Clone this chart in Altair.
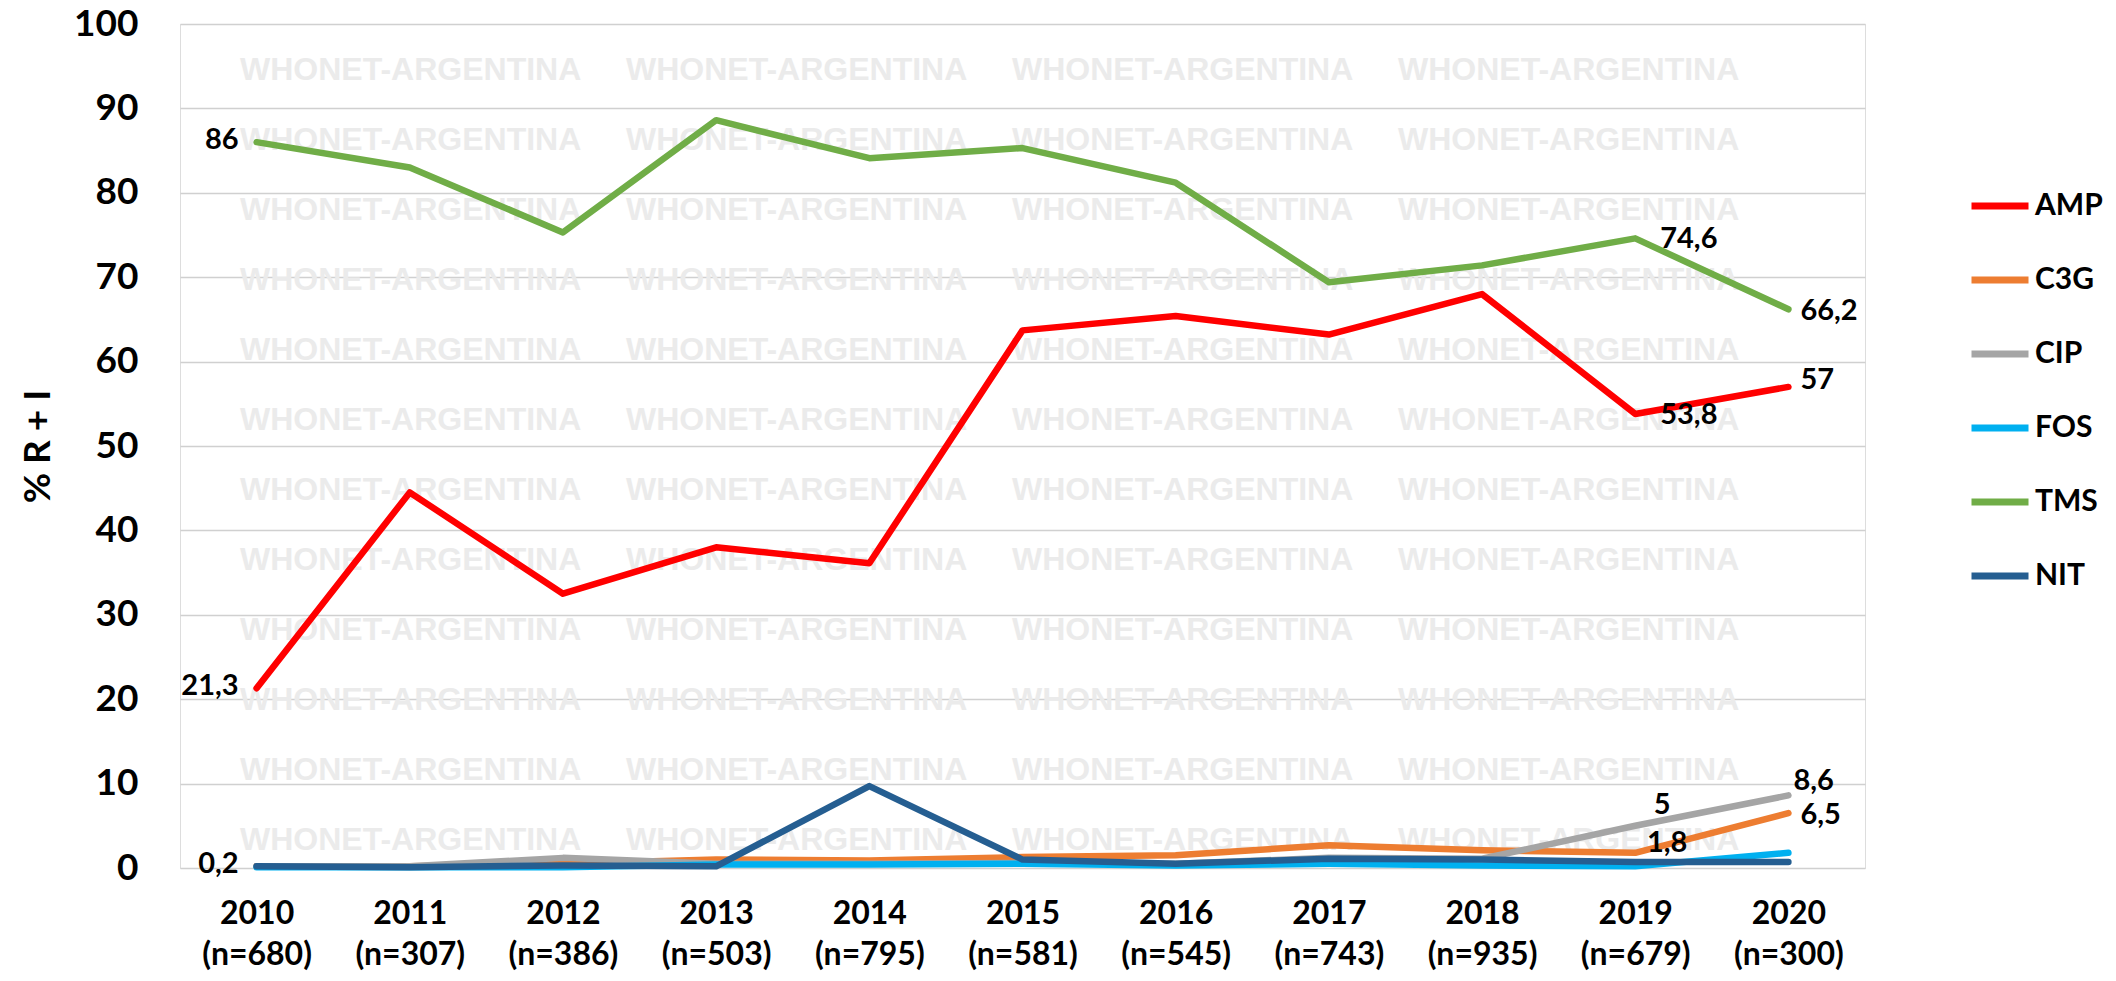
import altair as alt
import pandas as pd

# ---- data ----
years = ["2010", "2011", "2012", "2013", "2014", "2015", "2016", "2017", "2018", "2019", "2020"]
n_counts = ["680", "307", "386", "503", "795", "581", "545", "743", "935", "679", "300"]
series = ["AMP", "C3G", "CIP", "FOS", "TMS", "NIT"]
colors = ["#FF0000", "#ED7D31", "#A5A5A5", "#00B0F0", "#70AD47", "#255E91"]

amp = [21.3, 44.5, 32.5, 38.0, 36.1, 63.7, 65.4, 63.2, 68.0, 53.8, 57.0]
c3g = [0.2, 0.2, 0.5, 1.0, 0.9, 1.3, 1.5, 2.7, 2.1, 1.8, 6.5]
cip = [0.2, 0.2, 1.2, 0.5, 0.5, 0.6, 0.5, 1.2, 1.1, 5.0, 8.6]
fos = [0.1, 0.1, 0.1, 0.4, 0.4, 0.5, 0.3, 0.5, 0.3, 0.2, 1.8]
tms = [86.0, 83.0, 75.3, 88.6, 84.1, 85.3, 81.2, 69.4, 71.4, 74.6, 66.2]
nit = [0.2, 0.1, 0.3, 0.2, 9.7, 1.0, 0.5, 1.1, 1.0, 0.7, 0.7]

values = {"AMP": amp, "C3G": c3g, "CIP": cip, "FOS": fos, "TMS": tms, "NIT": nit}

# data labels: (series, year index, text, placement group)
label_series = ["TMS", "AMP", "NIT", "TMS", "TMS", "AMP", "AMP", "CIP", "CIP", "C3G", "C3G"]
label_idx = [0, 0, 0, 9, 10, 9, 10, 9, 10, 9, 10]
label_text = ["86", "21,3", "0,2", "74,6", "66,2", "53,8", "57", "5", "8,6", "1,8", "6,5"]
label_group = ["left", "left", "left", "near", "right", "near", "rightup", "above5", "rightup2", "above18", "right"]

wm_text = "WHONET-ARGENTINA"
wm_cols = [0, 1, 2, 3]
wm_rows = list(range(12))

FONT = "Lato"

cats = [f"{y} (n={n})" for y, n in zip(years, n_counts)]

rows = []
for s in series:
    for c, v in zip(cats, values[s]):
        rows.append({"cat": c, "serie": s, "val": v})
df = pd.DataFrame(rows)

lab = pd.DataFrame({
    "serie": label_series,
    "cat": [cats[i] for i in label_idx],
    "val": [values[s][i] for s, i in zip(label_series, label_idx)],
    "txt": label_text,
    "grp": label_group,
})

wm = pd.DataFrame([{"col": c, "row": r, "txt": wm_text} for c in wm_cols for r in wm_rows])

W, H = 1685, 844

x_enc = alt.X(
    "cat:N", sort=cats,
    scale=alt.Scale(type="point", padding=0.5),
    axis=alt.Axis(
        title=None, labelAngle=0, labelExpr="split(datum.value, ' ')",
        labelFont=FONT, labelFontSize=32, labelFontWeight="bold", labelColor="black",
        labelLineHeight=41, labelPadding=30, domain=False, ticks=False, grid=False,
        labelBaseline="top",
    ),
)
y_enc = alt.Y(
    "val:Q",
    scale=alt.Scale(domain=[0, 100], nice=False),
    axis=alt.Axis(
        title="% R + I", values=list(range(0, 101, 10)),
        labelFont=FONT, labelFontSize=37, labelFontWeight="bold", labelColor="black",
        labelPadding=42, domain=False, ticks=False,
        grid=True, gridColor="#d0d0d0", gridWidth=1.5,
        titleFont=FONT, titleFontSize=37, titleFontWeight="bold", titleColor="black",
        titlePadding=16,
    ),
)

watermark = alt.Chart(wm).transform_calculate(
    px="60 + datum.col * 386", py="46 + datum.row * 70"
).mark_text(
    font="Liberation Sans", fontSize=32, fontWeight="bold", color="#ebebeb",
    align="left", baseline="middle",
).encode(
    x=alt.X("px:Q", scale=None), y=alt.Y("py:Q", scale=None), text="txt:N"
)

lines = alt.Chart(df).mark_line(strokeWidth=6.5, strokeCap="round", strokeJoin="round").encode(
    x=x_enc, y=y_enc,
    color=alt.Color(
        "serie:N",
        scale=alt.Scale(domain=series, range=colors),
        legend=alt.Legend(
            title=None, orient="none", legendX=1788, legendY=150,
            symbolType="stroke", symbolSize=3249, symbolStrokeWidth=7,
            labelFont=FONT, labelFontSize=30, labelFontWeight="bold", labelColor="black",
            rowPadding=27, labelOffset=3, padding=0,
        ),
    ),
)

def lab_layer(groups, align, dx, dy):
    return alt.Chart(lab).transform_filter(
        alt.FieldOneOfPredicate(field="grp", oneOf=groups)
    ).mark_text(
        font=FONT, fontSize=29, fontWeight="bold", color="black",
        align=align, baseline="middle", dx=dx, dy=dy,
    ).encode(
        x=alt.X("cat:N", sort=cats), y=alt.Y("val:Q"), text="txt:N"
    )

labels = [
    lab_layer(["left"], "right", -18, -2),
    lab_layer(["near"], "left", 25, 1),
    lab_layer(["right"], "left", 12, 2),
    lab_layer(["rightup"], "left", 12, -7),
    lab_layer(["rightup2"], "left", 5, -14),
    lab_layer(["above5"], "center", 27, -21),
    lab_layer(["above18"], "center", 32, -10),
]

chart = alt.layer(watermark, lines, *labels).properties(
    width=W, height=H,
    autosize=alt.AutoSizeParams(type="none"),
    padding={"left": 172, "top": 16, "right": 243, "bottom": 105},
).configure_view(stroke=None).configure(background="white")

chart.save("out.html", embed_options={"renderer": "svg", "actions": False})
